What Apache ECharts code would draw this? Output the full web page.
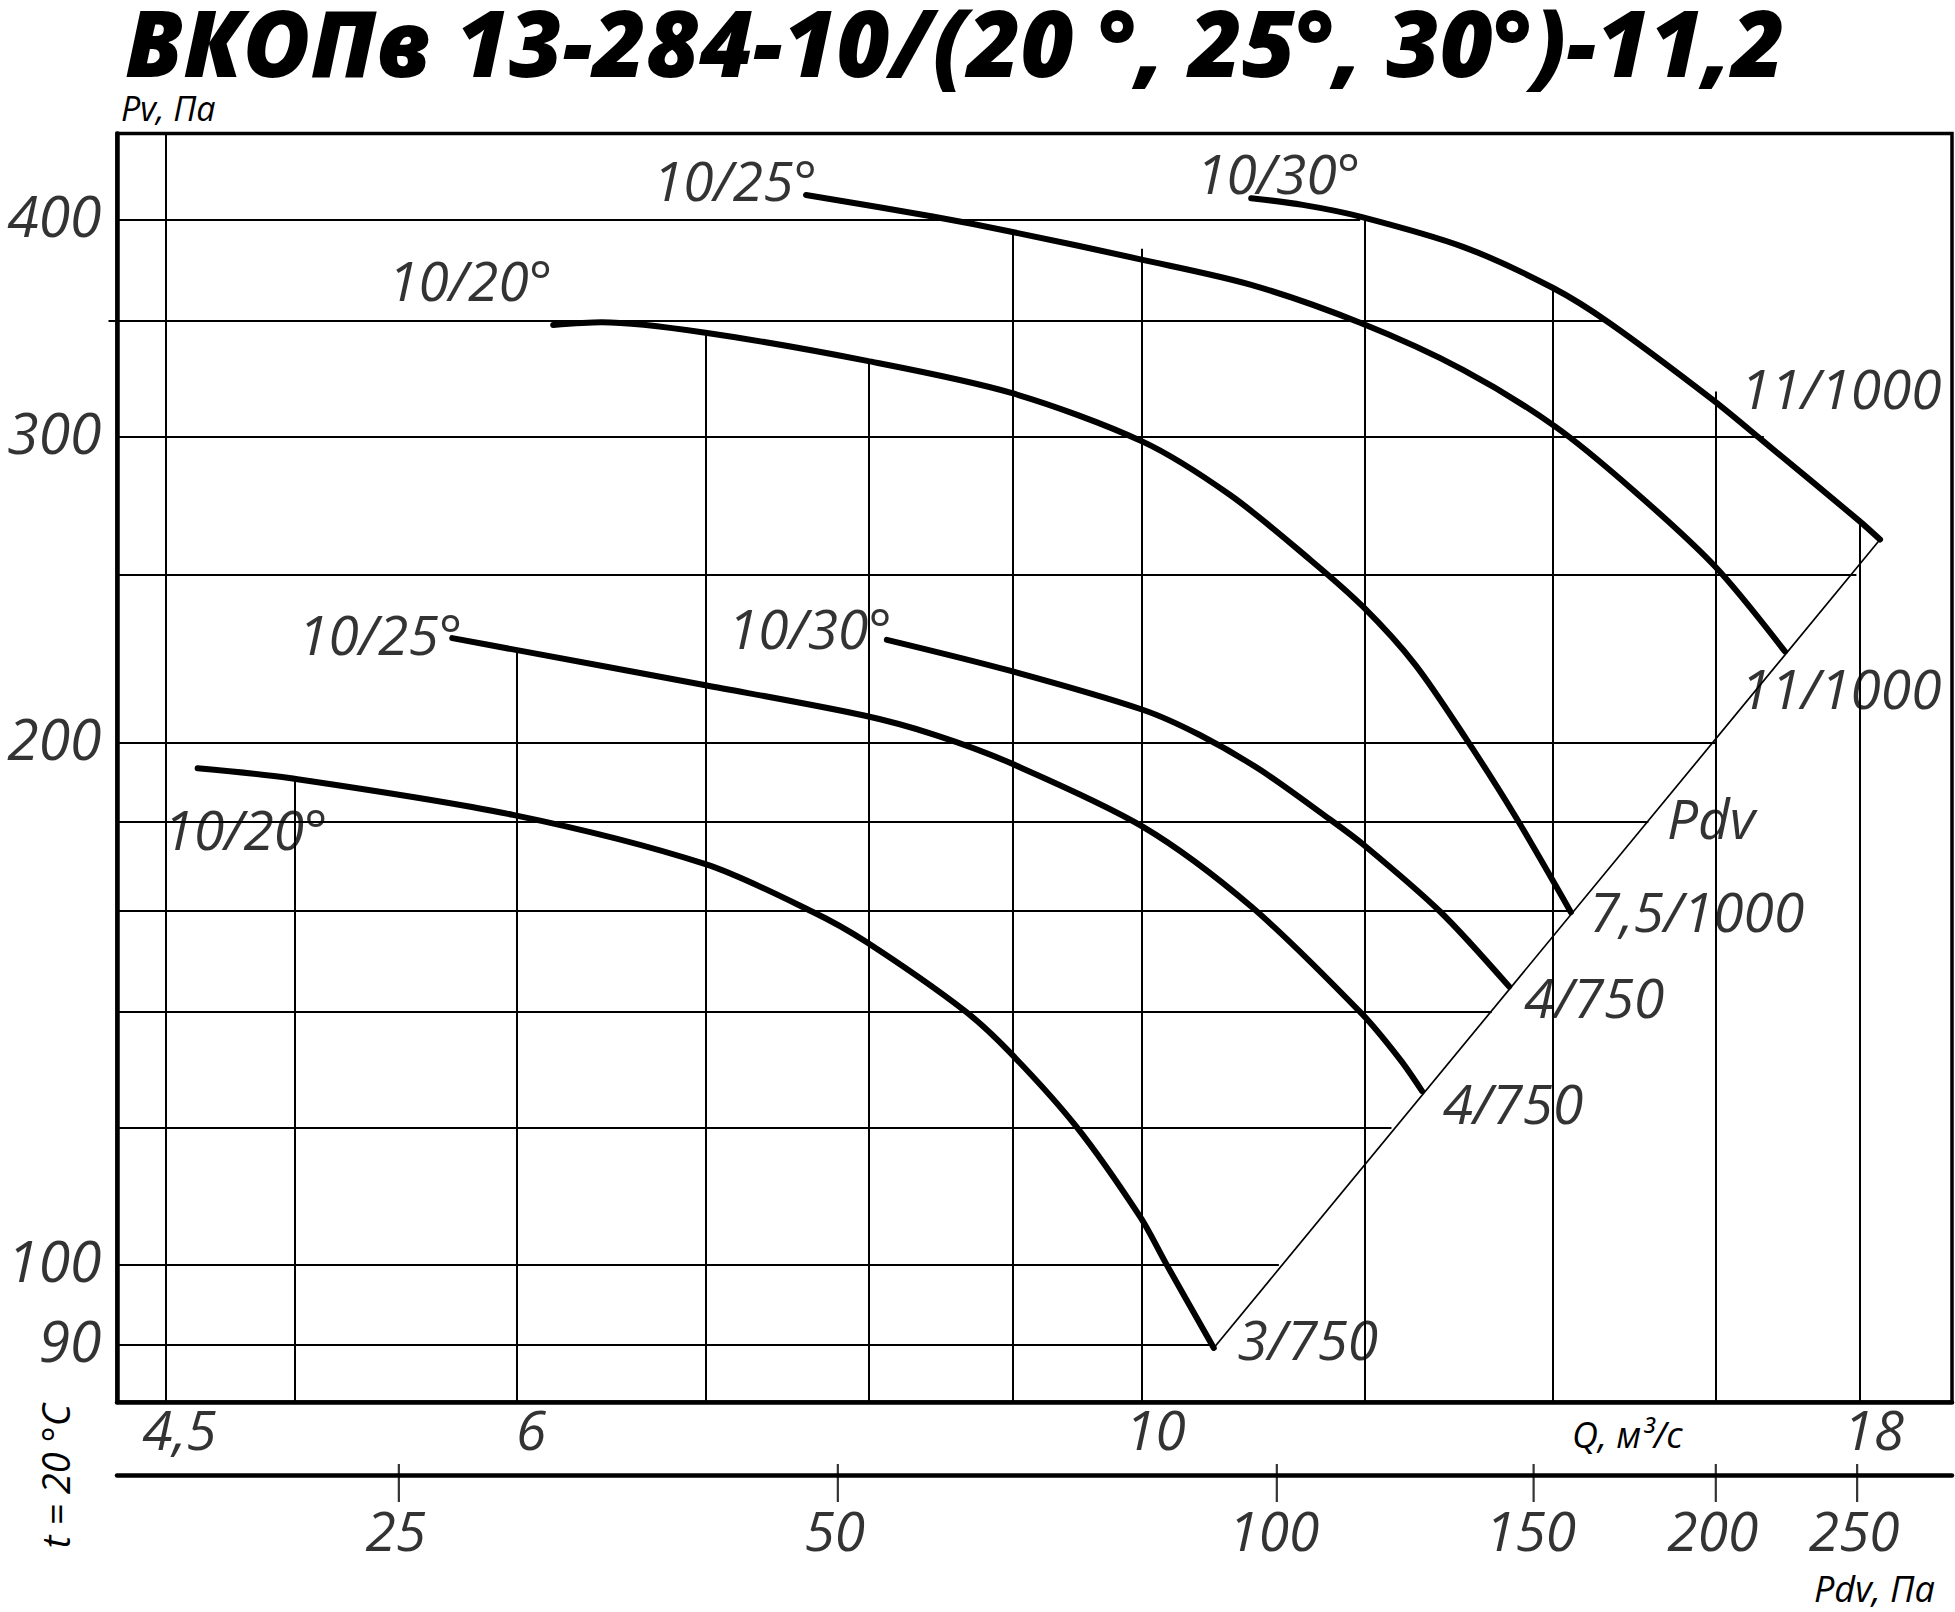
<!DOCTYPE html>
<html>
<head>
<meta charset="utf-8">
<script src="https://cdn.jsdelivr.net/npm/echarts@6/dist/echarts.min.js"></script>
<style>
html,body{margin:0;padding:0;background:#fff;}
#chart{width:1955px;height:1612px;}
</style>
</head>
<body>
<div id="chart"></div>
<script>
// ---------------- data ----------------
const titleText = 'ВКОПв 13-284-10/(20 °, 25°, 30°)-11,2';

// Q axis (m3/s, log) and Pv axis (Pa, log) ranges
const Q_MIN = 4.325, Q_MAX = 19.41;
const P_MIN = 83.4, P_MAX = 448.6;
// Pdv secondary scale (Pa, log)
const PDV_MIN = 16.02, PDV_MAX = 290.4;

// tick labels
const qTickLabels = [4.5, 6, 10, 18];
const pvTickLabels = [90, 100, 200, 300, 400];
const pdvTicks = [25, 50, 100, 150, 200, 250];

// grid lines (clipped like the original drawing)
const vGridQ    = [4.5, 5, 6, 7, 8, 9, 10, 12, 14, 16, 18];
const vGridTopP = [448.6, 190.8, 226, 343.5, 331, 393.5, 385, 402, 366, 318.6, 268.2];
const hGridP      = [90, 100, 120, 140, 160, 180, 200, 250, 300, 350, 400];
const hGridStartQ = [4.325, 4.325, 4.325, 4.325, 4.325, 4.325, 4.325, 4.325, 4.325, 4.295, 4.325];
const hGridEndQ   = [10.60, 11.19, 12.27, 13.32, 14.21, 15.14, 15.99, 17.95, 16.64, 14.67, 11.96];

// characteristic curves (Q, Pv)
const qA = [4.62, 4.98, 5.98, 7.00, 7.64, 7.98, 8.65, 8.98, 9.48, 9.99, 10.20, 10.61];
const pA = [193.3, 190.8, 181.7, 170.2, 159.8, 153.6, 140.2, 132.6, 120.2, 106.6, 100.3, 89.6];
const qB = [5.69, 5.98, 7.00, 7.97, 8.45, 8.98, 10.01, 10.94, 11.98, 12.36, 12.58];
const pB = [229.7, 226.3, 215.8, 207.3, 202.0, 194.7, 178.9, 160.9, 139.5, 131.3, 126.0];
const qC = [8.12, 8.98, 10.01, 10.49, 11.02, 11.63, 11.99, 12.77, 13.51];
const pC = [229.2, 220.0, 208.9, 202.0, 192.9, 181.3, 174.7, 159.8, 144.7];
const qD = [6.18, 6.43, 7.00, 7.99, 8.99, 10.01, 10.75, 11.48, 11.99, 12.51, 13.04, 13.58, 14.21];
const pD = [348.0, 349.2, 344.4, 331.8, 318.0, 298.1, 277.8, 254.9, 239.4, 221.8, 201.1, 181.3, 159.7];
const qE = [7.60, 8.43, 8.99, 10.01, 10.94, 11.96, 13.01, 14.03, 14.95, 15.99, 16.93];
const pE = [413.5, 401.8, 393.8, 379.4, 367.0, 349.0, 327.9, 304.1, 279.6, 252.6, 225.7];
const qF = [10.94, 11.41, 11.96, 13.01, 14.00, 14.67, 15.96, 16.64, 18.00, 18.30];
const pF = [411.7, 408.1, 401.8, 386.0, 365.6, 348.8, 315.1, 298.1, 268.2, 261.8];

const startNames = ['10/20°', '10/25°', '10/30°', '10/20°', '10/25°', '10/30°'];
const endNames   = ['3/750', '4/750', '4/750', '7,5/1000', '11/1000', '11/1000'];
const pdvLineName = 'Pdv';

// ---------------- styling / placement (not data) ----------------
const startOffsets = [[48, 60], [-72, -5], [-77, -12], [-83, -45], [-71, -15], [27, -26]];
const endOffsets   = [[94, -9], [91, 12], [85, 10], [126, -2], [56, 36], [-39, -152]];
const pdvNameOffset = [-169, 278];

const FONT = 'Open Sans';
const lblStyle = { fontFamily: FONT, fontStyle: 'italic', fontSize: 55, color: '#000' };
const HIDDEN = { color: 'rgba(0,0,0,0)', borderWidth: 0 };

const curves = [[qA, pA], [qB, pB], [qC, pC], [qD, pD], [qE, pE], [qF, pF]];
const pairs = (q, p) => q.map((v, i) => [v, p[i]]);

const curveSeries = curves.map(([q, p]) => ({
  type: 'line', xAxisIndex: 0, yAxisIndex: 0,
  data: pairs(q, p), smooth: 0.3, showSymbol: false, symbol: 'none',
  lineStyle: { color: '#000', width: 6, cap: 'round', join: 'round' },
  silent: true, z: 5
}));

const labelItems = [];
curves.forEach(([q, p], i) => {
  labelItems.push({ value: [q[0], p[0]], label: { formatter: startNames[i], offset: startOffsets[i] } });
  const n = q.length - 1;
  labelItems.push({ value: [q[n], p[n]], label: { formatter: endNames[i], offset: endOffsets[i] } });
});
const diagEnd = [qF[qF.length - 1], pF[pF.length - 1]];
const diagStart = [qA[qA.length - 1], pA[pA.length - 1]];
labelItems.push({ value: diagEnd, label: { formatter: pdvLineName, offset: pdvNameOffset } });

const option = {
  animation: false,
  backgroundColor: '#fff',
  textStyle: { fontFamily: FONT },
  grid: [
    { left: 117, right: 3, top: 133.5, bottom: 210, show: true, borderColor: '#000', borderWidth: 3.5, backgroundColor: 'transparent' },
    { left: 117, right: 3, top: 1464, height: 11, show: false }
  ],
  xAxis: [
    { type: 'log', gridIndex: 0, min: Q_MIN, max: Q_MAX,
      axisLine: { show: true, onZero: false, lineStyle: { color: '#000', width: 4.5 } },
      axisTick: { show: false }, axisLabel: { show: false }, splitLine: { show: false }, minorSplitLine: { show: false } },
    { type: 'log', gridIndex: 1, min: PDV_MIN, max: PDV_MAX, position: 'bottom',
      axisLine: { show: true, onZero: false, lineStyle: { color: '#000', width: 4.5 } },
      axisTick: { show: false }, axisLabel: { show: false }, splitLine: { show: false } }
  ],
  yAxis: [
    { type: 'log', gridIndex: 0, min: P_MIN, max: P_MAX,
      axisLine: { show: true, onZero: false, lineStyle: { color: '#000', width: 4.5 } },
      axisTick: { show: false }, axisLabel: { show: false }, splitLine: { show: false } },
    { type: 'value', gridIndex: 1, min: 0, max: 1, show: false }
  ],
  series: [
    { type: 'lines', coordinateSystem: 'cartesian2d', xAxisIndex: 0, yAxisIndex: 0, clip: false, silent: true, z: 2,
      lineStyle: { color: '#000', width: 2, opacity: 1, curveness: 0 },
      data: vGridQ.map((q, i) => ({ coords: [[q, P_MIN], [q, vGridTopP[i]]] })) },
    { type: 'lines', coordinateSystem: 'cartesian2d', xAxisIndex: 0, yAxisIndex: 0, clip: false, silent: true, z: 2,
      lineStyle: { color: '#000', width: 2, opacity: 1, curveness: 0 },
      data: hGridP.map((p, i) => ({ coords: [[hGridStartQ[i], p], [hGridEndQ[i], p]] })) },
    { type: 'lines', coordinateSystem: 'cartesian2d', xAxisIndex: 0, yAxisIndex: 0, clip: false, silent: true, z: 3,
      lineStyle: { color: '#000', width: 1.7, opacity: 1, curveness: 0 },
      data: [{ coords: [diagStart, diagEnd] }] },
    ...curveSeries,
    { type: 'scatter', xAxisIndex: 0, yAxisIndex: 0, clip: false, silent: true, z: 8,
      symbolSize: 1, itemStyle: HIDDEN,
      label: Object.assign({ show: true, position: 'inside', align: 'center', verticalAlign: 'middle' }, lblStyle),
      data: labelItems },
    { type: 'scatter', xAxisIndex: 0, yAxisIndex: 0, clip: false, silent: true, z: 8,
      symbolSize: 1, itemStyle: HIDDEN,
      label: Object.assign({ show: true, position: 'left', distance: 15, offset: [0, -5],
        formatter: (d) => String(d.value[1]) }, lblStyle, { fontSize: 57 }),
      data: pvTickLabels.map(v => [Q_MIN, v]) },
    { type: 'scatter', xAxisIndex: 0, yAxisIndex: 0, clip: false, silent: true, z: 8,
      symbolSize: 1, itemStyle: HIDDEN,
      label: Object.assign({ show: true, position: 'inside', offset: [14, 26],
        formatter: (d) => String(d.value[0]).replace('.', ',') }, lblStyle),
      data: qTickLabels.map(v => [v, P_MIN]) },
    { type: 'scatter', xAxisIndex: 1, yAxisIndex: 1, clip: false, silent: true, z: 8,
      symbol: 'rect', symbolSize: [2.2, 38], symbolOffset: [0, 8], itemStyle: { color: '#000' },
      data: pdvTicks.map(v => [v, 0]) },
    { type: 'scatter', xAxisIndex: 1, yAxisIndex: 1, clip: false, silent: true, z: 8,
      symbolSize: 1, itemStyle: HIDDEN,
      label: Object.assign({ show: true, position: 'inside', offset: [-3, 54],
        formatter: (d) => String(d.value[0]) }, lblStyle),
      data: pdvTicks.map(v => [v, 0]) }
  ],
  graphic: [
    { type: 'text', silent: true, style: { text: titleText, x: 125, y: 41, align: 'left', verticalAlign: 'middle',
      fontFamily: FONT, fontStyle: 'italic', fontWeight: 800, fontSize: 92, fill: '#000' } },
    { type: 'text', silent: true, style: { text: 'Pv, Па', x: 121, y: 108, align: 'left', verticalAlign: 'middle',
      fontFamily: FONT, fontStyle: 'italic', fontSize: 34, fill: '#000' } },
    { type: 'text', silent: true, x: 55, y: 1476, rotation: Math.PI / 2,
      style: { text: 't = 20 °C', x: 0, y: 0, align: 'center', verticalAlign: 'middle',
      fontFamily: FONT, fontStyle: 'italic', fontSize: 38, fill: '#000' } },
    { type: 'text', silent: true, style: { text: 'Q, м³/с', x: 1572, y: 1434, align: 'left', verticalAlign: 'middle',
      fontFamily: FONT, fontStyle: 'italic', fontSize: 36, fill: '#000' } },
    { type: 'text', silent: true, style: { text: 'Pdv, Па', x: 1814, y: 1588, align: 'left', verticalAlign: 'middle',
      fontFamily: FONT, fontStyle: 'italic', fontSize: 36, fill: '#000' } }
  ]
};

const chart = echarts.init(document.getElementById('chart'), null, { renderer: 'svg', width: 1955, height: 1612 });
chart.setOption(option);
</script>
</body>
</html>
